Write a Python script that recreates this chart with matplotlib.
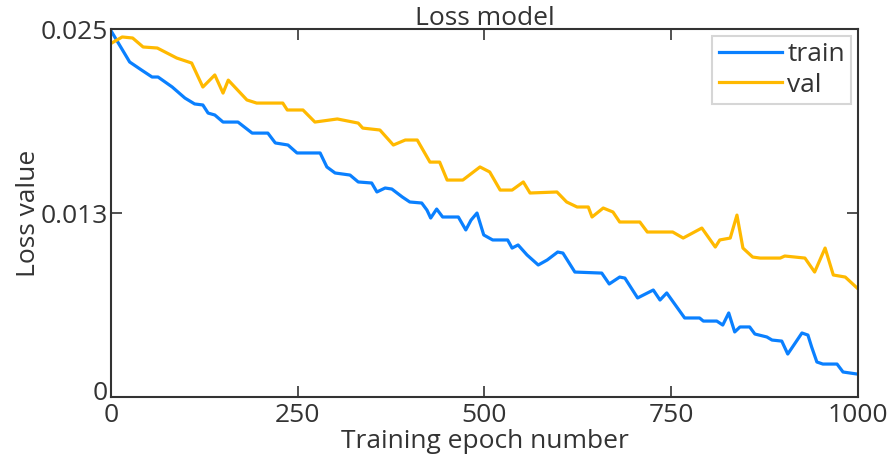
import numpy as np
import matplotlib
matplotlib.use('Agg')
import matplotlib.pyplot as plt
import matplotlib.transforms as mtransforms

# datos
train_epoch = [1, 25, 41, 55, 63, 82, 99, 112, 123, 130, 139, 150, 170, 189, 210, 220, 237,
               249, 280, 289, 300, 320, 331, 349, 356, 367, 376, 390, 400, 416, 423, 428,
               436, 444, 465, 475, 482, 490, 499, 511, 531, 537, 545, 557, 572, 584, 598,
               605, 621, 657, 667, 681, 688, 705, 726, 735, 744, 768, 788, 793, 811, 819,
               827, 835, 842, 855, 862, 878, 885, 898, 906, 916, 925, 933, 938, 945, 953,
               972, 980, 999]
train_loss = [0.02480, 0.02276, 0.02221, 0.02174, 0.02174, 0.02106, 0.02031, 0.01991,
              0.01984, 0.01929, 0.01916, 0.01868, 0.01868, 0.01793, 0.01793, 0.01726,
              0.01712, 0.01658, 0.01658, 0.01563, 0.01522, 0.01508, 0.01461, 0.01454,
              0.01393, 0.01420, 0.01413, 0.01359, 0.01325, 0.01318, 0.01270, 0.01216,
              0.01277, 0.01223, 0.01223, 0.01135, 0.01202, 0.01250, 0.01101, 0.01067,
              0.01067, 0.01012, 0.01033, 0.00965, 0.00897, 0.00931, 0.00985, 0.00978,
              0.00849, 0.00842, 0.00768, 0.00815, 0.00808, 0.00673, 0.00727, 0.00659,
              0.00707, 0.00537, 0.00537, 0.00516, 0.00516, 0.00489, 0.00571, 0.00442,
              0.00476, 0.00476, 0.00428, 0.00408, 0.00387, 0.00380, 0.00292, 0.00367,
              0.00435, 0.00421, 0.00340, 0.00238, 0.00224, 0.00224, 0.00170, 0.00156]

val_epoch = [1, 15, 29, 43, 62, 88, 108, 123, 139, 150, 157, 182, 195, 230, 236, 257, 273,
             303, 331, 337, 360, 378, 394, 410, 427, 440, 450, 471, 494, 507, 521, 537,
             552, 561, 597, 610, 624, 639, 644, 659, 672, 681, 708, 718, 752, 766, 791,
             809, 815, 829, 838, 846, 859, 869, 896, 902, 929, 942, 956, 967, 983, 999]
val_loss = [0.02405, 0.02446, 0.02439, 0.02378, 0.02371, 0.02303, 0.02269, 0.02106,
            0.02188, 0.02065, 0.02153, 0.02018, 0.01997, 0.01997, 0.01950, 0.01950,
            0.01868, 0.01889, 0.01861, 0.01827, 0.01814, 0.01712, 0.01746, 0.01746,
            0.01596, 0.01596, 0.01474, 0.01474, 0.01563, 0.01529, 0.01406, 0.01406,
            0.01461, 0.01386, 0.01393, 0.01325, 0.01291, 0.01291, 0.01223, 0.01284,
            0.01257, 0.01189, 0.01189, 0.01121, 0.01121, 0.01080, 0.01148, 0.01019,
            0.01067, 0.01080, 0.01236, 0.01012, 0.00951, 0.00944, 0.00944, 0.00958,
            0.00944, 0.00849, 0.01012, 0.00829, 0.00815, 0.00740]

x_ticks = [0, 250, 500, 750, 1000]
y_ticks = [0, 0.0125, 0.025]
y_tick_labels = ['0', '0.013', '0.025']

plt.rcParams['font.family'] = ['Open Sans', 'DejaVu Sans']
fs = 19
gris = '#333333'

fig = plt.figure(figsize=(8.9, 4.63), dpi=100)
ax = fig.add_axes([0.1247, 0.1425, 0.8393, 0.7948])

ax.plot(train_epoch, train_loss, color='#0A80FF', lw=2.3, label='train')
ax.plot(val_epoch, val_loss, color='#FFB900', lw=2.3, label='val')

ax.set_xlim(0, 1000)
ax.set_ylim(0, 0.025)
ax.set_xticks(x_ticks)
ax.set_xticklabels([str(t) for t in x_ticks])
ax.set_yticks(y_ticks)
ax.set_yticklabels(y_tick_labels)

ax.tick_params(direction='in', length=8, width=1.2, colors=gris, labelsize=fs,
               top=True, right=True, pad=2)
ax.tick_params(axis='x', pad=4)
for s in ax.spines.values():
    s.set_color(gris)
    s.set_linewidth(1.5)

# el "0" del eje y va un poco mas arriba, como en el original
lbl0 = ax.get_yticklabels()[0]
lbl0.set_transform(lbl0.get_transform() +
                   mtransforms.ScaledTranslation(0, 7 / 100, fig.dpi_scale_trans))

ax.set_title('Loss model', fontsize=fs, color=gris, pad=3)
ax.set_xlabel('Training epoch number', fontsize=fs, color=gris, labelpad=1)
ax.set_ylabel('Loss value', fontsize=fs, color=gris, labelpad=0)

leg = ax.legend(loc='upper right', fontsize=fs, frameon=True, fancybox=False,
                handlelength=2.4, handletextpad=0.2, borderpad=0.25,
                borderaxespad=0.25, labelspacing=0.2, labelcolor=gris)
leg.get_frame().set_edgecolor('#cccccc')
leg.get_frame().set_linewidth(1.5)

fig.savefig('out.png', dpi=100)
